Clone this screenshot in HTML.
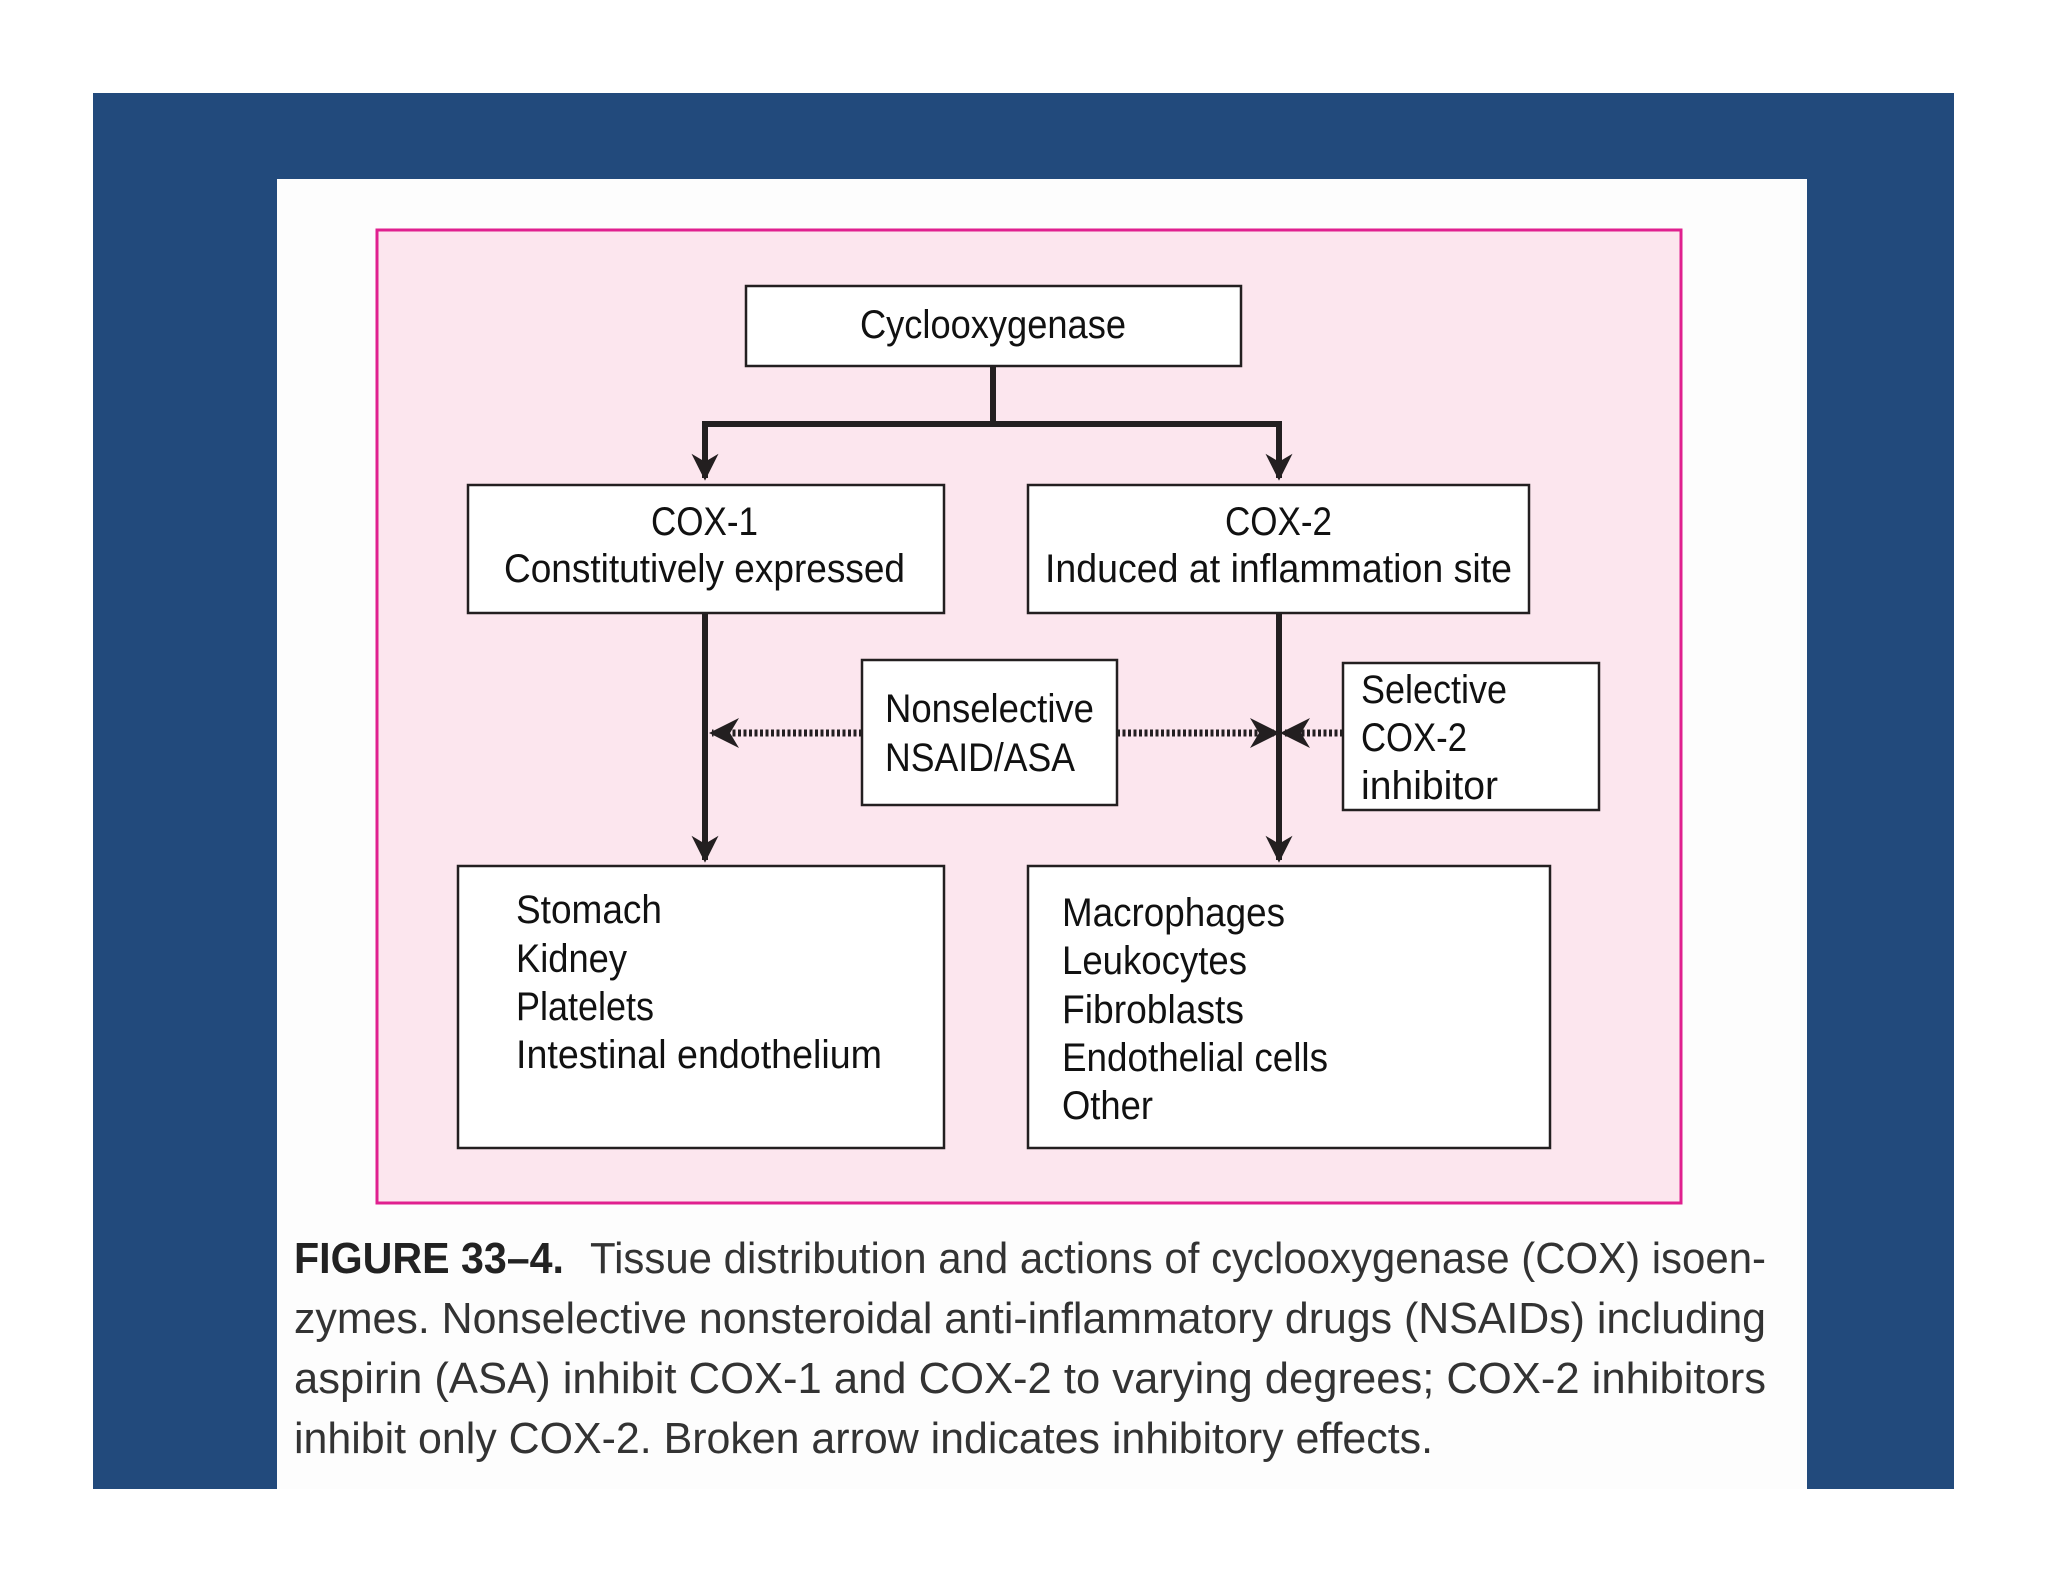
<!DOCTYPE html>
<html><head><meta charset="utf-8"><style>html,body{margin:0;padding:0;background:#fff}svg{display:block}</style></head>
<body>
<svg width="2048" height="1582" viewBox="0 0 2048 1582" xmlns="http://www.w3.org/2000/svg" font-family="Liberation Sans, sans-serif">
<defs>
<marker id="ah" viewBox="0 0 10 10" refX="9" refY="5" markerWidth="4.5" markerHeight="4.5" orient="auto" markerUnits="strokeWidth"><path d="M0,0 L10,5 L0,10 L3,5 Z" fill="#231f20"/></marker>
<marker id="ah2" viewBox="0 0 10 10" refX="9" refY="5" markerWidth="6" markerHeight="6" orient="auto" markerUnits="userSpaceOnUse"><path d="M0,0 L10,5 L0,10 L3,5 Z" fill="#231f20"/></marker>
<marker id="ah3" viewBox="0 0 10 10" refX="9" refY="5" markerWidth="30" markerHeight="30" orient="auto" markerUnits="userSpaceOnUse"><path d="M0,0 L10,5 L0,10 L3,5 Z" fill="#231f20"/></marker>
</defs>
<rect x="93" y="93" width="1861" height="1396" fill="#224a7c"/>
<rect x="277" y="179" width="1530" height="1310" fill="#fdfdfd"/>
<rect x="377" y="230" width="1304" height="973" fill="#fce6ee" stroke="#e0208f" stroke-width="3"/>
<g fill="#fff" stroke="#231f20" stroke-width="2.5">
<rect x="746" y="286" width="495" height="80"/>
<rect x="468" y="485" width="476" height="128"/>
<rect x="1028" y="485" width="501" height="128"/>
<rect x="862" y="660" width="255" height="145"/>
<rect x="1343" y="663" width="256" height="147"/>
<rect x="458" y="866" width="486" height="282"/>
<rect x="1028" y="866" width="522" height="282"/>
</g>
<g stroke="#231f20" stroke-width="6" fill="none">
<path d="M993,366 V424"/>
<path d="M705,424 H1279"/>
<path d="M705,421 V478" marker-end="url(#ah)"/>
<path d="M1279,421 V478" marker-end="url(#ah)"/>
<path d="M705,613 V860" marker-end="url(#ah)"/>
<path d="M1279,613 V860" marker-end="url(#ah)"/>
</g>
<g stroke="#231f20" stroke-width="7" fill="none" stroke-dasharray="3 2.5">
<path d="M862,733 H712" marker-end="url(#ah3)"/>
<path d="M1117,733 H1277" marker-end="url(#ah3)"/>
<path d="M1343,733 H1283" marker-end="url(#ah3)"/>
</g>
<g fill="#111" font-size="40">
<text x="860" y="338" textLength="266" lengthAdjust="spacingAndGlyphs">Cyclooxygenase</text>
<text x="651" y="535" textLength="107" lengthAdjust="spacingAndGlyphs">COX-1</text>
<text x="504" y="582" textLength="401" lengthAdjust="spacingAndGlyphs">Constitutively expressed</text>
<text x="1225" y="535" textLength="107" lengthAdjust="spacingAndGlyphs">COX-2</text>
<text x="1045" y="582" textLength="467" lengthAdjust="spacingAndGlyphs">Induced at inflammation site</text>
<text x="885" y="722" textLength="209" lengthAdjust="spacingAndGlyphs">Nonselective</text>
<text x="885" y="771" textLength="190" lengthAdjust="spacingAndGlyphs">NSAID/ASA</text>
<text x="1361" y="703" textLength="146" lengthAdjust="spacingAndGlyphs">Selective</text>
<text x="1361" y="751" textLength="106" lengthAdjust="spacingAndGlyphs">COX-2</text>
<text x="1361" y="799" textLength="137" lengthAdjust="spacingAndGlyphs">inhibitor</text>
<text x="516" y="923" textLength="146" lengthAdjust="spacingAndGlyphs">Stomach</text>
<text x="516" y="972" textLength="111" lengthAdjust="spacingAndGlyphs">Kidney</text>
<text x="516" y="1020" textLength="138" lengthAdjust="spacingAndGlyphs">Platelets</text>
<text x="516" y="1068" textLength="366" lengthAdjust="spacingAndGlyphs">Intestinal endothelium</text>
<text x="1062" y="926" textLength="223" lengthAdjust="spacingAndGlyphs">Macrophages</text>
<text x="1062" y="974" textLength="185" lengthAdjust="spacingAndGlyphs">Leukocytes</text>
<text x="1062" y="1023" textLength="182" lengthAdjust="spacingAndGlyphs">Fibroblasts</text>
<text x="1062" y="1071" textLength="266" lengthAdjust="spacingAndGlyphs">Endothelial cells</text>
<text x="1062" y="1119" textLength="91" lengthAdjust="spacingAndGlyphs">Other</text>
</g>
<g fill="#333" font-size="44">
<text x="294" y="1273" textLength="270" lengthAdjust="spacingAndGlyphs" font-weight="bold" fill="#222">FIGURE 33–4.</text>
<text x="590" y="1273" textLength="1176" lengthAdjust="spacingAndGlyphs">Tissue distribution and actions of cyclooxygenase (COX) isoen-</text>
<text x="294" y="1333" textLength="1472" lengthAdjust="spacingAndGlyphs">zymes. Nonselective nonsteroidal anti-inflammatory drugs (NSAIDs) including</text>
<text x="294" y="1393" textLength="1472" lengthAdjust="spacingAndGlyphs">aspirin (ASA) inhibit COX-1 and COX-2 to varying degrees; COX-2 inhibitors</text>
<text x="294" y="1453" textLength="1139" lengthAdjust="spacingAndGlyphs">inhibit only COX-2. Broken arrow indicates inhibitory effects.</text>
</g>
</svg>
</body></html>
